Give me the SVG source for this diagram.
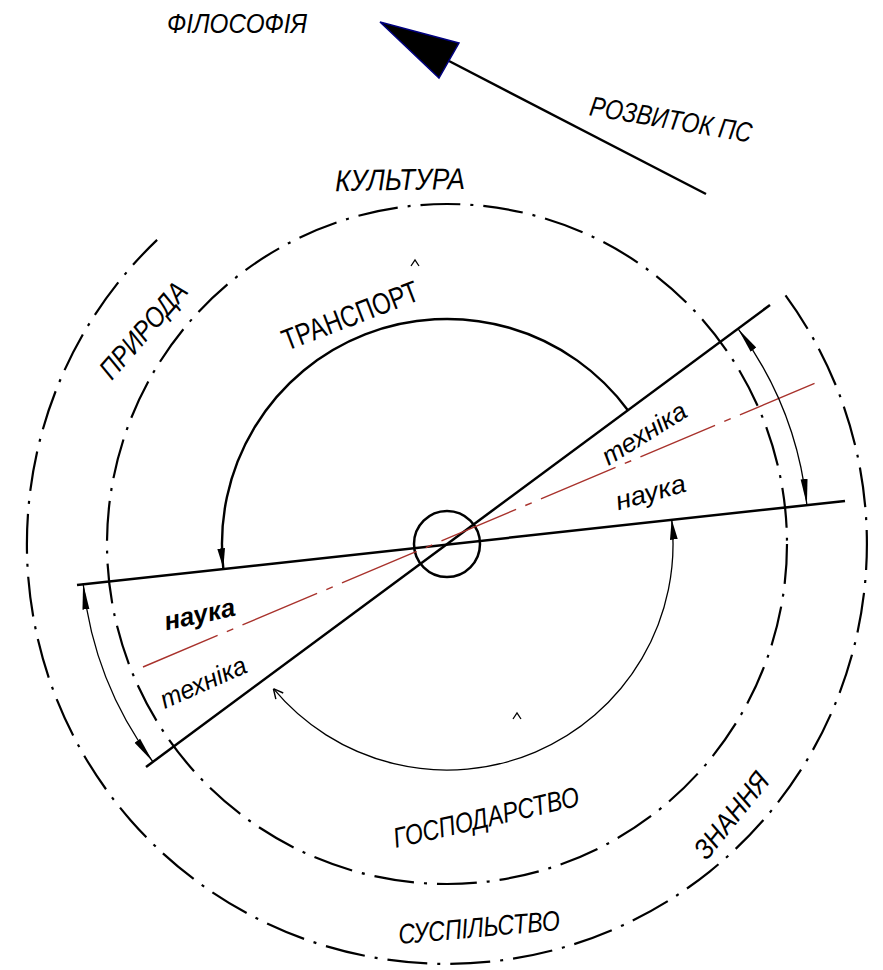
<svg xmlns="http://www.w3.org/2000/svg" width="883" height="970" viewBox="0 0 883 970">
<style>
.bg{fill:#ffffff}
.dd{fill:none;stroke:#000;stroke-width:2.2;stroke-dasharray:40 10 3 10}
.ln{fill:none;stroke:#000;stroke-width:2.5}
.thick{fill:none;stroke:#000;stroke-width:2.4}
.thin{fill:none;stroke:#000;stroke-width:1.3}
.red{fill:none;stroke:#a8322c;stroke-width:1.4;stroke-dasharray:81 10 7 10}
.cap{font-family:"Liberation Sans","DejaVu Sans",sans-serif;font-style:italic;font-size:28px;fill:#000;text-anchor:middle}
.low{font-family:"Liberation Sans","DejaVu Sans",sans-serif;font-style:italic;font-size:26px;fill:#000;text-anchor:middle}
</style>
<defs>
<marker id="ah" markerUnits="userSpaceOnUse" markerWidth="26" markerHeight="10" viewBox="0 0 24 8" refX="24" refY="4" orient="auto-start-reverse">
<path d="M0 0.8 L24 4 L0 7.2 Z" fill="#000"/>
</marker>
<marker id="ah2" markerUnits="userSpaceOnUse" markerWidth="20" markerHeight="10" viewBox="0 0 18 8" refX="18" refY="4" orient="auto">
<path d="M0 0.5 L18 4 L0 7.5 Z" fill="#000"/>
</marker>
<marker id="open" markerUnits="userSpaceOnUse" markerWidth="12" markerHeight="12" viewBox="0 0 10 10" refX="0" refY="5" orient="auto">
<path d="M8 1 L0 5 L8 9" fill="none" stroke="#000" stroke-width="1.2"/>
</marker>
</defs>
<rect class="bg" x="0" y="0" width="883" height="970"/>

<g id="rings">
<circle id="ring-middle" class="dd" cx="447" cy="544" r="340"/>
<path id="ring-outer" class="dd" d="M785.5 295.4 A420 420 0 1 1 157.1 239.9"/>
<circle id="hub" class="ln" cx="447" cy="544" r="33"/>
</g>

<g id="connectors">
<path id="line-tech" class="ln" d="M146 767 L770 305"/>
<path id="line-sci" class="ln" d="M77 585 L845 501"/>
<path id="axis" class="red" d="M143 667 L820 381"/>
<path id="arc-transport" class="thick" d="M627.9 410.2 A225 225 0 0 0 223.3 568.3" marker-end="url(#ah2)"/>
<path id="arc-economy" class="thin" d="M273.4 688.7 A226 226 0 0 0 671.7 519.6" marker-start="url(#open)" marker-end="url(#ah2)"/>
<path id="dim-right" class="thin" d="M738 328.7 A362 362 0 0 1 806.9 504.9" marker-start="url(#ah)" marker-end="url(#ah)"/>
<path id="dim-left" class="thin" d="M83.1 583.5 A366 366 0 0 0 152.8 761.7" marker-start="url(#ah)" marker-end="url(#ah)"/>
<path id="develop" class="ln" d="M449 61 L706 194"/>
<path id="develop-head" d="M380 22 L459 43 L439 78 Z" fill="#000" stroke="#000080" stroke-width="1.5" stroke-linejoin="miter"/>
<path class="thin" d="M411 266 L415 260 L419 266"/>
<path class="thin" d="M513 719 L517 713 L521 719"/>
</g>

<g id="labels">
<g id="n-filosofia"><text class="cap" x="237" y="33" textLength="140" lengthAdjust="spacingAndGlyphs">ФІЛОСОФІЯ</text></g>
<g id="n-rozvytok" transform="translate(671 119) rotate(9.6)"><text class="cap" x="0" y="10" textLength="164" lengthAdjust="spacingAndGlyphs">РОЗВИТОК ПС</text></g>
<g id="n-kultura" transform="translate(400 179) rotate(-1)"><text class="cap" x="0" y="11" style="font-size:30px" textLength="130" lengthAdjust="spacingAndGlyphs">КУЛЬТУРА</text></g>
<g id="n-pryroda" transform="translate(143 330) rotate(-49)"><text class="cap" x="0" y="10" textLength="118" lengthAdjust="spacingAndGlyphs">ПРИРОДА</text></g>
<g id="n-transport" transform="translate(350 315) rotate(-21)"><text class="cap" x="0" y="11" style="font-size:30px;font-style:normal" textLength="144" lengthAdjust="spacingAndGlyphs">ТРАНСПОРТ</text></g>
<g id="n-tech-r" transform="translate(645 435) rotate(-32)"><text class="low" x="0" y="7" textLength="95" lengthAdjust="spacingAndGlyphs">техніка</text></g>
<g id="n-sci-r" transform="translate(651 494) rotate(-15.5)"><text class="low" x="0" y="7" textLength="72" lengthAdjust="spacingAndGlyphs">наука</text></g>
<g id="n-sci-l" transform="translate(200 616) rotate(-12)"><text class="low" x="0" y="7" style="font-weight:bold" textLength="72" lengthAdjust="spacingAndGlyphs">наука</text></g>
<g id="n-tech-l" transform="translate(204 684) rotate(-24)"><text class="low" x="0" y="7" textLength="92" lengthAdjust="spacingAndGlyphs">техніка</text></g>
<g id="n-gospodarstvo" transform="translate(486 817) rotate(-13)"><text class="cap" x="0" y="10" textLength="190" lengthAdjust="spacingAndGlyphs">ГОСПОДАРСТВО</text></g>
<g id="n-znannia" transform="translate(731 815) rotate(-51)"><text class="cap" x="0" y="10" textLength="102" lengthAdjust="spacingAndGlyphs">ЗНАННЯ</text></g>
<g id="n-suspilstvo" transform="translate(479 927) rotate(-5)"><text class="cap" x="0" y="10" textLength="162" lengthAdjust="spacingAndGlyphs">СУСПІЛЬСТВО</text></g>
</g>
</svg>
